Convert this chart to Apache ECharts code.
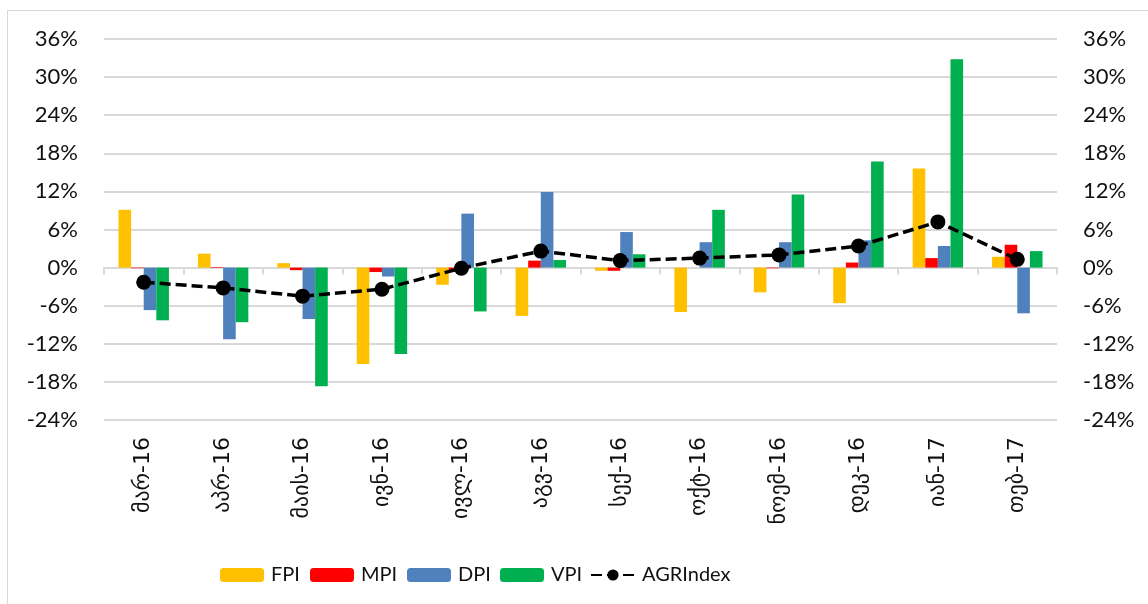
<!DOCTYPE html>
<html>
<head>
<meta charset="utf-8">
<script src="https://cdn.jsdelivr.net/npm/echarts@6/dist/echarts.min.js"></script>
<style>
html,body{margin:0;padding:0;background:#fff;}
#frame{position:absolute;left:7px;top:10px;width:1160px;height:620px;border:1px solid #d9d9d9;box-sizing:border-box;}
#chart{position:absolute;left:0;top:0;width:1148px;height:604px;}
</style>
</head>
<body>
<div id="frame"></div>
<div id="chart"></div>
<script>
const categories = ['მარ-16','აპრ-16','მაის-16','ივნ-16','ივლ-16','აგვ-16','სექ-16','ოქტ-16','ნოემ-16','დეკ-16','იან-17','თებ-17'];
const FPI = [9.1, 2.2, 0.7, -15.2, -2.7, -7.6, -0.5, -7.0, -3.9, -5.6, 15.6, 1.7];
const MPI = [-0.1, 0.1, -0.4, -0.7, -0.5, 1.1, -0.5, 0.0, -0.1, 0.8, 1.5, 3.6];
const DPI = [-6.7, -11.3, -8.1, -1.4, 8.5, 11.9, 5.6, 4.0, 4.0, 4.3, 3.4, -7.2];
const VPI = [-8.3, -8.6, -18.7, -13.6, -6.9, 1.2, 2.1, 9.1, 11.5, 16.7, 32.8, 2.6];
const AGRIndex = [-2.3, -3.2, -4.5, -3.4, -0.1, 2.6, 1.1, 1.5, 2.0, 3.4, 7.2, 1.3];
const seriesNames = ['FPI', 'MPI', 'DPI', 'VPI', 'AGRIndex'];
const yTicks = {min: -24, max: 36, interval: 6};

const font = 'Lato, "DejaVu Sans", sans-serif';
const txt = '#111';
const chart = echarts.init(document.getElementById('chart'));
const yAxisBase = {
  type: 'value', min: yTicks.min, max: yTicks.max, interval: yTicks.interval,
  axisLine: {show: false}, axisTick: {show: false},
  axisLabel: {formatter: '{value}%', fontFamily: font, fontSize: 22, color: txt, margin: 26}
};
function bar(name, data, color) {
  return {name, type: 'bar', data, xAxisIndex: 0, yAxisIndex: 0, itemStyle: {color},
    barGap: '0%', barCategoryGap: '36.5%'};
}
const legendLefts = [215, 305, 402, 495, 585];
const legends = seriesNames.map((n, i) => ({
  left: legendLefts[i], top: 560, itemWidth: 44, itemHeight: 14,
  textStyle: {fontFamily: font, fontSize: 20, color: txt, padding: [0, 0, 0, 2]},
  data: [n]
}));
chart.setOption({
  animation: false,
  grid: {left: 104, right: 91, top: 39, bottom: 184},
  xAxis: [
    {type: 'category', data: categories, position: 'bottom',
     axisLine: {show: false, onZero: false}, axisTick: {show: false},
     axisLabel: {rotate: 90, fontFamily: '"DejaVu Sans", sans-serif', fontSize: 22, color: txt, margin: 17}},
    {type: 'category', data: categories, position: 'top',
     axisLine: {show: true, onZero: true, lineStyle: {color: '#d9d9d9', width: 2}},
     axisTick: {show: true, inside: true, length: 7, lineStyle: {color: '#d9d9d9', width: 2}},
     axisLabel: {show: false}}
  ],
  yAxis: [
    Object.assign({}, yAxisBase, {position: 'left', splitLine: {lineStyle: {color: '#d9d9d9', width: 2}}}),
    Object.assign({}, yAxisBase, {position: 'right', splitLine: {show: false}})
  ],
  legend: legends,
  series: [
    bar('FPI', FPI, '#FFC000'),
    bar('MPI', MPI, '#FF0000'),
    bar('DPI', DPI, '#4F81BD'),
    bar('VPI', VPI, '#00B050'),
    {name: 'AGRIndex', type: 'line', data: AGRIndex, xAxisIndex: 0, yAxisIndex: 1,
     symbol: 'circle', symbolSize: 15, itemStyle: {color: '#000'},
     lineStyle: {color: '#000', width: 3.5, type: [11, 5]}, z: 5}
  ]
});
</script>
</body>
</html>
